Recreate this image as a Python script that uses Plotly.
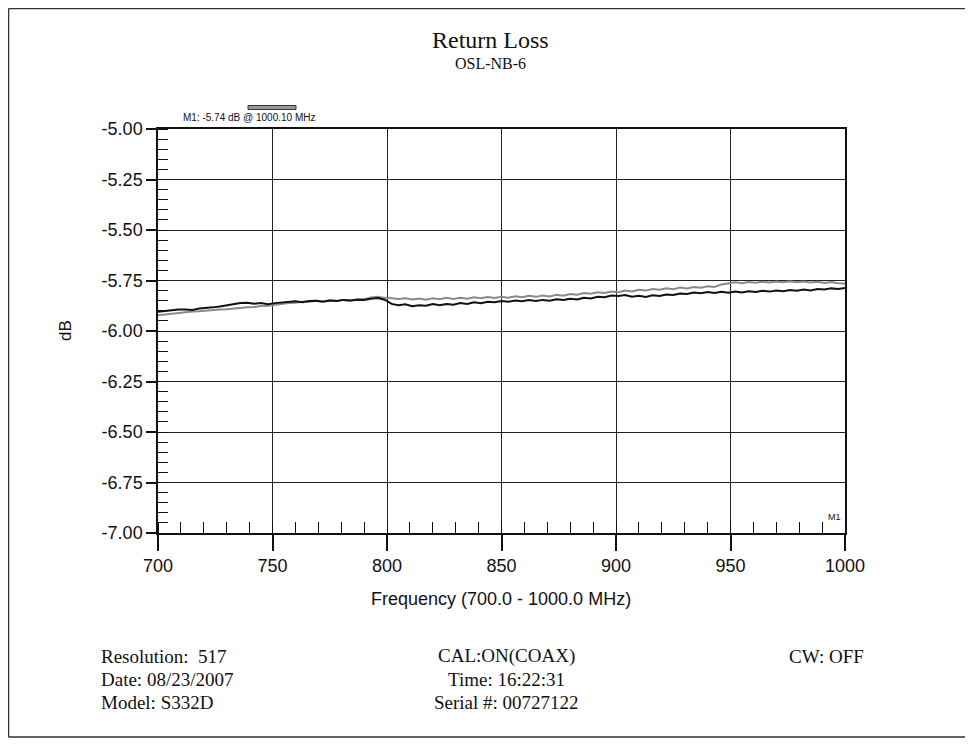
import numpy as np
import plotly.graph_objects as go

# ---------------- data ----------------
trace_black = [
    -5.905, -5.901, -5.899, -5.894, -5.893, -5.896, -5.889, -5.887, -5.883, -5.879,
    -5.874, -5.866, -5.861, -5.860, -5.865, -5.861, -5.867, -5.862, -5.858, -5.856,
    -5.853, -5.858, -5.852, -5.850, -5.855, -5.849, -5.852, -5.846, -5.849, -5.845,
    -5.847, -5.840, -5.837, -5.845, -5.866, -5.873, -5.868, -5.877, -5.872, -5.875,
    -5.867, -5.872, -5.866, -5.870, -5.862, -5.866, -5.858, -5.862, -5.855, -5.858,
    -5.851, -5.855, -5.849, -5.853, -5.847, -5.852, -5.846, -5.850, -5.843, -5.846,
    -5.840, -5.844, -5.835, -5.839, -5.830, -5.833, -5.824, -5.827, -5.822, -5.830,
    -5.825, -5.832, -5.823, -5.827, -5.819, -5.822, -5.814, -5.817, -5.810, -5.813,
    -5.807, -5.812, -5.806, -5.810, -5.804, -5.809, -5.803, -5.807, -5.801, -5.805,
    -5.799, -5.803, -5.797, -5.801, -5.795, -5.799, -5.792, -5.795, -5.789, -5.792,
    -5.787,
]
trace_gray = [
    -5.922, -5.918, -5.917, -5.911, -5.909, -5.904, -5.902, -5.898, -5.897, -5.893,
    -5.892, -5.888, -5.887, -5.883, -5.881, -5.876, -5.875, -5.870, -5.867, -5.861,
    -5.860, -5.855, -5.855, -5.850, -5.854, -5.848, -5.852, -5.846, -5.850, -5.843,
    -5.843, -5.834, -5.830, -5.836, -5.838, -5.842, -5.838, -5.844, -5.839, -5.845,
    -5.838, -5.843, -5.836, -5.841, -5.835, -5.840, -5.833, -5.838, -5.832, -5.837,
    -5.831, -5.835, -5.828, -5.833, -5.826, -5.831, -5.824, -5.829, -5.821, -5.825,
    -5.817, -5.821, -5.812, -5.816, -5.808, -5.812, -5.804, -5.808, -5.800, -5.804,
    -5.796, -5.800, -5.792, -5.796, -5.789, -5.793, -5.785, -5.789, -5.782, -5.786,
    -5.778, -5.782, -5.770, -5.763, -5.759, -5.763, -5.757, -5.761, -5.756, -5.760,
    -5.755, -5.759, -5.754, -5.759, -5.755, -5.760, -5.756, -5.762, -5.758, -5.764,
    -5.765,
]
freq_start, freq_stop = 700.0, 1000.0
freq_black = np.linspace(freq_start, freq_stop, len(trace_black))
freq_gray = np.linspace(freq_start, freq_stop, len(trace_gray))

x_tickvals = [700, 750, 800, 850, 900, 950, 1000]
x_ticktext = ["700", "750", "800", "850", "900", "950", "1000"]
y_tickvals = [-7.00, -6.75, -6.50, -6.25, -6.00, -5.75, -5.50, -5.25, -5.00]
y_ticktext = ["-7.00", "-6.75", "-6.50", "-6.25", "-6.00", "-5.75", "-5.50", "-5.25", "-5.00"]

title_text = "Return Loss"
subtitle_text = "OSL-NB-6"
marker_text = "M1: -5.74 dB @ 1000.10 MHz"
marker_label = "M1"
x_title = "Frequency (700.0 - 1000.0 MHz)"
y_title = "dB"
left_info = ["Resolution:  517", "Date: 08/23/2007", "Model: S332D"]
center_info = ["CAL:ON(COAX)", "Time: 16:22:31", "Serial #: 00727122"]
right_info = ["CW: OFF"]

# ---------------- layout geometry (figure pixels) ----------------
W, H = 973, 746
OFF = 8  # page margin of the html body
L, R, T, B = 158 - OFF, 845 - OFF, 129 - OFF, 533 - OFF
PW, PH = R - L, B - T


def px(x):  # screenshot x -> paper
    return (x - OFF - L) / PW


def py(y):  # screenshot y -> paper
    return (B - (y - OFF)) / PH


SERIF = "Liberation Serif, Times New Roman, serif"
SANS = "Liberation Sans, Arial, sans-serif"

fig = go.Figure()
fig.add_trace(go.Scatter(x=freq_gray, y=trace_gray, mode="lines",
                         line=dict(color="#8a8a8a", width=2), showlegend=False))
fig.add_trace(go.Scatter(x=freq_black, y=trace_black, mode="lines",
                         line=dict(color="#111111", width=2), showlegend=False))

ann = []
ann.append(dict(text=title_text, x=px(490), y=py(40), font=dict(family=SERIF, size=24, color="#111")))
ann.append(dict(text=subtitle_text, x=px(490), y=py(63), font=dict(family=SERIF, size=16, color="#111")))
ann.append(dict(text=marker_text, x=px(249), y=py(118), font=dict(family=SANS, size=10, color="#111")))
ann.append(dict(text=marker_label, x=px(834), y=py(517), font=dict(family=SANS, size=9, color="#111")))
ann.append(dict(text=x_title, x=px(501), y=py(599), font=dict(family=SANS, size=18, color="#111")))
ann.append(dict(text=y_title, x=px(65), y=py(331), textangle=-90, font=dict(family=SANS, size=17, color="#111")))
row_y = [656, 679, 702]
for i, t in enumerate(left_info):
    ann.append(dict(text=t, x=px(99), y=py(row_y[i]), xanchor="left",
                    font=dict(family=SERIF, size=19, color="#111")))
for i, t in enumerate(center_info):
    ann.append(dict(text=t, x=px(506), y=py(row_y[i]),
                    font=dict(family=SERIF, size=19, color="#111")))
for i, t in enumerate(right_info):
    ann.append(dict(text=t, x=px(866), y=py(row_y[i]), xanchor="right",
                    font=dict(family=SERIF, size=19, color="#111")))
for a in ann:
    a.update(xref="paper", yref="paper", showarrow=False)
    a.setdefault("xanchor", "center")
    a.setdefault("yanchor", "middle")

border = dict(color="#333", width=1.5)
shapes = [
    # page border: left, top, bottom
    dict(type="line", xref="paper", yref="paper", x0=px(8.5), x1=px(8.5), y0=py(737), y1=py(8.5), line=border),
    dict(type="line", xref="paper", yref="paper", x0=px(8.5), x1=px(980), y0=py(8.5), y1=py(8.5), line=border),
    dict(type="line", xref="paper", yref="paper", x0=px(8.5), x1=px(980), y0=py(737), y1=py(737), line=border),
    # marker legend bar
    dict(type="rect", xref="paper", yref="paper", x0=px(248), x1=px(296), y0=py(109.5), y1=py(105.5),
         line=dict(color="#333", width=1), fillcolor="#9a9a9a"),
]

fig.update_layout(
    width=W, height=H,
    margin=dict(l=L, r=W - R, t=T, b=H - B, pad=0),
    paper_bgcolor="white", plot_bgcolor="white",
    annotations=ann, shapes=shapes,
    showlegend=False,
)
fig.update_xaxes(
    range=[freq_start, freq_stop], tickvals=x_tickvals, ticktext=x_ticktext,
    ticks="outside", ticklen=16, tickwidth=1.5, tickcolor="#111",
    showgrid=True, gridcolor="#222", gridwidth=1.3,
    showline=True, linecolor="#111", linewidth=1.5, mirror=True, zeroline=False,
    tickfont=dict(family=SANS, size=18, color="#111"),
    minor=dict(ticks="inside", ticklen=11, tickwidth=1.3, tickcolor="#111",
               tick0=700, dtick=10, showgrid=False),
)
fig.update_yaxes(
    range=[-7.0, -5.0], tickvals=y_tickvals, ticktext=y_ticktext,
    ticks="outside", ticklen=10, tickwidth=1.5, tickcolor="#111",
    showgrid=True, gridcolor="#222", gridwidth=1.3,
    showline=True, linecolor="#111", linewidth=1.5, mirror=True, zeroline=False,
    tickfont=dict(family=SANS, size=18, color="#111"),
    minor=dict(ticks="inside", ticklen=10, tickwidth=1.3, tickcolor="#111",
               tick0=-7.0, dtick=0.05, showgrid=False),
)

fig.write_html("out.html")
